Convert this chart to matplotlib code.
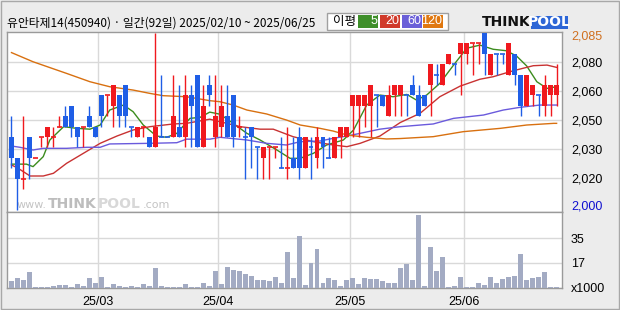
import matplotlib
matplotlib.use('Agg')
import matplotlib.pyplot as plt
from matplotlib.patches import Rectangle
import numpy as np

# ---------------- data ----------------
title = "유안타제14(450940) · 일간(92일) 2025/02/10 ~ 2025/06/25"

opens = [2035, 2025, 2015, 2035, 2025, 2035, 2035, 2035, 2040, 2045,
         2050, 2040, 2040, 2045, 2040, 2055, 2055, 2050, 2055, 2060,
         2040, 2035, 2040, 2035, 2030, 2035, 2035, 2035, 2040, 2035,
         2055, 2065, 2030, 2060, 2035, 2040, 2045, 2055, 2040, 2035,
         2040, 2030, 2025, 2030, 2030, 2020, 2020, 2025, 2035, 2020,
         2030, 2025, 2035, 2025, 2025, 2035, 2035, 2050, 2050, 2050,
         2050, 2055, 2055, 2045, 2055, 2055, 2055, 2060, 2055, 2055,
         2060, 2065, 2060, 2070, 2070, 2075, 2075, 2080, 2080, 2085,
         2065, 2075, 2075, 2065, 2075, 2065, 2050, 2055, 2055, 2050,
         2055, 2055]
highs = [2045, 2025, 2045, 2035, 2025, 2035, 2040, 2040, 2045, 2050,
         2050, 2040, 2040, 2050, 2040, 2055, 2055, 2060, 2055, 2060,
         2040, 2040, 2040, 2035, 2085, 2065, 2035, 2065, 2060, 2065,
         2060, 2065, 2060, 2065, 2065, 2060, 2060, 2055, 2045, 2040,
         2040, 2030, 2030, 2030, 2030, 2035, 2040, 2035, 2040, 2035,
         2035, 2040, 2035, 2035, 2035, 2040, 2040, 2055, 2055, 2055,
         2060, 2055, 2055, 2060, 2060, 2060, 2055, 2065, 2060, 2055,
         2070, 2070, 2070, 2075, 2070, 2080, 2080, 2080, 2080, 2085,
         2075, 2075, 2075, 2080, 2075, 2065, 2065, 2060, 2055, 2065,
         2060, 2070]
lows = [2020, 2000, 2010, 2015, 2025, 2030, 2030, 2030, 2040, 2040,
        2035, 2030, 2030, 2040, 2035, 2040, 2045, 2040, 2040, 2040,
        2035, 2035, 2035, 2030, 2030, 2035, 2035, 2035, 2035, 2030,
        2030, 2030, 2030, 2050, 2030, 2035, 2035, 2030, 2035, 2015,
        2020, 2015, 2015, 2015, 2025, 2020, 2015, 2020, 2015, 2020,
        2015, 2020, 2020, 2025, 2025, 2025, 2035, 2035, 2035, 2040,
        2035, 2040, 2050, 2045, 2045, 2045, 2045, 2055, 2045, 2050,
        2045, 2060, 2060, 2070, 2065, 2055, 2070, 2065, 2070, 2065,
        2065, 2065, 2070, 2065, 2060, 2045, 2050, 2050, 2045, 2045,
        2045, 2050]
closes = [2025, 2015, 2015, 2025, 2025, 2035, 2040, 2035, 2040, 2040,
          2040, 2035, 2040, 2040, 2035, 2045, 2055, 2060, 2045, 2045,
          2040, 2040, 2040, 2030, 2040, 2035, 2035, 2045, 2035, 2055,
          2050, 2030, 2050, 2055, 2045, 2050, 2035, 2035, 2040, 2035,
          2035, 2030, 2030, 2030, 2030, 2020, 2020, 2020, 2020, 2035,
          2030, 2035, 2030, 2025, 2035, 2040, 2040, 2055, 2055, 2055,
          2060, 2055, 2050, 2055, 2060, 2060, 2055, 2055, 2045, 2050,
          2070, 2065, 2070, 2075, 2070, 2080, 2080, 2080, 2080, 2075,
          2075, 2075, 2075, 2080, 2065, 2050, 2065, 2060, 2055, 2060,
          2060, 2060]
# candle colour: R = rise, B = fall
directions = list("BBRBRRRRRB" "BBRBBBRRBB" "BRRBRBBRBR" "BBRBRRBBRB"
                  "BBRRRBRBBR" "BRBBRRRRRR" "RBBRRRBBBB" "RBRRBRRRRB"
                  "RBBRBBRRBR" "RR")
volumes = [4.3, 6.4, 5.0, 10.7, 0.5, 0.5, 0.5, 1.4, 2.1, 2.1,
           0.7, 2.8, 1.4, 6.4, 3.1, 7.8, 0.7, 2.8, 1.4, 0.7,
           1.4, 0.7, 2.8, 1.4, 13.5, 1.4, 0.7, 0.7, 0.7, 2.8,
           0.7, 0.7, 3.5, 1.4, 11.4, 2.8, 14.9, 12.1, 11.4, 9.9,
           8.5, 5.0, 5.0, 4.3, 7.8, 3.5, 24.9, 6.4, 36.9, 2.1,
           17.5, 27.0, 3.5, 6.4, 5.0, 1.4, 5.0, 6.4, 2.8, 6.4,
           5.7, 5.7, 4.3, 3.5, 3.5, 13.5, 17.0, 5.0, 51.8, 1.4,
           28.4, 11.4, 21.3, 0.7, 1.4, 7.1, 0.7, 0.7, 3.5, 2.1,
           7.1, 3.5, 5.7, 7.8, 8.5, 24.1, 5.0, 6.4, 7.1, 10.7,
           0.7, 0.7]

# moving averages (candle index, value)
ma5_idx = [0, 2.5, 3.6, 5.3, 6.4, 8.7, 10.9, 13.1, 14.8, 16.4, 18.7, 20.3, 22.0, 24.2,
           25.9, 27.6, 29.8, 31.5, 33.1, 34.8, 37.0, 39.3, 41.5, 44.3, 46.5, 48.2, 50.4,
           52.6, 55.4, 57.1, 59.3, 61.5, 63.7, 66.0, 67.6, 69.3, 71.5, 73.8, 76.0, 78.2,
           80.4, 82.6, 84.3, 86.0, 87.7, 89.4, 91]
ma5_val = [2022.0, 2022.0, 2020.8, 2025.6, 2033.6, 2040.0, 2039.2, 2038.8, 2040.8, 2048.0,
           2050.4, 2047.2, 2040.8, 2035.5, 2034.9, 2036.8, 2044.0, 2044.5, 2047.0, 2046.0,
           2041.6, 2036.8, 2033.6, 2028.8, 2024.8, 2024.8, 2027.2, 2031.2, 2033.6, 2038.4,
           2050.4, 2055.2, 2054.4, 2055.5, 2052.8, 2055.2, 2060.8, 2069.6, 2077.7, 2079.2,
           2077.2, 2076.5, 2074.0, 2069.2, 2061.6, 2058.4, 2059.2]
ma20_idx = [0, 1, 3.1, 5.3, 7.0, 9.2, 12.0, 14.8, 17.6, 20.3, 23.1, 27.0, 29.2, 33.1,
            34.8, 38.2, 41.5, 43.7, 47.0, 50.4, 53.7, 56.0, 58.2, 61.5, 64.9, 68.2,
            71.5, 74.9, 78.2, 80.4, 83.8, 87.1, 89.4, 91]
ma20_val = [2021.6, 2020.2, 2016.3, 2016.3, 2017.6, 2022.4, 2027.2, 2032.0, 2035.5, 2038.4,
            2040.0, 2041.3, 2041.6, 2043.6, 2042.4, 2040.0, 2038.8, 2038.8, 2035.2, 2032.8,
            2031.2, 2030.4, 2032.0, 2035.5, 2042.0, 2046.4, 2054.4, 2059.5, 2062.8, 2064.0,
            2066.9, 2069.3, 2069.6, 2068.5]
ma60_idx = [0, 1.4, 3.6, 5.3, 9.2, 12.6, 14.8, 16.4, 23.1, 27.6, 29.2, 33.1, 34.8, 39.3,
            42.6, 45.9, 48.2, 51.5, 53.7, 56.0, 58.2, 61.5, 64.9, 70.4, 73.8, 78.8, 82.1,
            84.9, 88.2, 91]
ma60_val = [2030.7, 2030.1, 2028.8, 2029.6, 2029.6, 2030.1, 2030.1, 2031.7, 2032.0, 2032.3,
            2034.0, 2034.0, 2034.9, 2033.6, 2032.0, 2031.2, 2032.8, 2033.1, 2034.4, 2035.5,
            2036.8, 2038.8, 2040.0, 2041.3, 2044.0, 2045.6, 2048.0, 2049.3, 2050.4, 2050.4]
ma120_idx = [0, 3.6, 9.2, 13.1, 16.4, 20.3, 23.1, 25.3, 29.2, 33.1, 34.8, 37.0, 39.3, 42.6,
             45.9, 48.2, 51.5, 53.7, 56.0, 59.3, 62.6, 64.9, 70.4, 75.4, 81.6, 86.0, 90.5, 91]
ma120_val = [2075.6, 2071.2, 2065.6, 2061.6, 2059.2, 2057.6, 2056.0, 2054.9, 2054.4, 2052.5,
             2052.0, 2050.4, 2048.0, 2046.1, 2043.2, 2040.8, 2039.2, 2037.9, 2036.0, 2034.9,
             2034.1, 2034.3, 2035.2, 2037.6, 2039.2, 2040.8, 2041.6, 2041.6]

price_grid = [2015.5, 2029.3, 2043.2, 2057.1, 2070.9]
price_grid_labels = ['2,020', '2,030', '2,050', '2,060', '2,080']
price_max_label, price_min_label = '2,085', '2,000'
vol_ticks = [0, 17.5, 35]
vol_tick_labels = ['x1000', '17', '35']
month_pos = [14.5, 34.5, 56.5, 75.5]
month_labels = ['25/03', '25/04', '25/05', '25/06']
ma_names = ['5', '20', '60', '120']

# ---------------- style ----------------
W, H = 620, 310
RED, BLUE = '#f0191e', '#1f5ee6'
VOLC = '#a3abc3'
MA_COL = ['#3c8c1e', '#c83232', '#6a5adc', '#d87010']
LEG_COL = ['#3f8f2a', '#d03a2a', '#6a5fd8', '#e07810']
GRID = '#d9d9d9'
SPINE = '#9a9a9a'
BG = '#ececec'
NUMFONT = ['Liberation Sans', 'DejaVu Sans']
KRFONT = ['Noto Sans CJK KR', 'DejaVu Sans']

def fx(px):
    return px / W

def fy(py):
    return 1 - py / H

fig = plt.figure(figsize=(6.2, 3.1), dpi=100, facecolor=BG)
ax = fig.add_axes([fx(7), fy(212), fx(555), 180 / H])
axv = fig.add_axes([fx(7), fy(287.5), fx(555), 75.5 / H], sharex=ax)

x = np.arange(len(opens))
cols = [RED if d == 'R' else BLUE for d in directions]

# wicks
ax.vlines(x, lows, highs, colors=cols, lw=1, zorder=4)
# bodies
bw = 0.83
for i in range(len(x)):
    o, c = opens[i], closes[i]
    if o == c:
        ax.hlines(c, i - bw / 2, i + bw / 2, colors=cols[i], lw=1.2, zorder=5)
    else:
        ax.bar(i, abs(c - o), bottom=min(o, c), width=bw, color=cols[i],
               linewidth=0, zorder=5)

# moving averages
for (xi, yi), col in zip([(ma5_idx, ma5_val), (ma20_idx, ma20_val),
                          (ma60_idx, ma60_val), (ma120_idx, ma120_val)], MA_COL):
    ax.plot(xi, yi, color=col, lw=1.0, zorder=3)

ax.set_xlim(-0.75, 91.9)
ax.set_ylim(1999.0, 2085.5)
ax.set_facecolor('white')
ax.yaxis.tick_right()
ax.set_yticks(price_grid)
ax.set_yticklabels(price_grid_labels, family=NUMFONT, fontsize=9)
ax.tick_params(axis='y', length=0, pad=6.5)
ax.tick_params(axis='x', length=0, labelbottom=False)
ax.set_xticks(month_pos)
ax.grid(True, color=GRID, lw=1, zorder=0)
ax.set_axisbelow(True)
for s in ax.spines.values():
    s.set_color(SPINE)
    s.set_linewidth(1)
ax.text(1 + 9 / 555, 2083.2, price_max_label, transform=ax.get_yaxis_transform(),
        ha='left', va='center', fontsize=9, family=NUMFONT, color='#d07020')
ax.text(1 + 9 / 555, 2001.6, price_min_label, transform=ax.get_yaxis_transform(),
        ha='left', va='center', fontsize=9, family=NUMFONT, color='#1010d0')

# watermark
ax.text(fx(47), fy(208), 'www.', fontsize=8, family=['DejaVu Sans'], ha='right',
        transform=fig.transFigure, va='baseline', zorder=1, color='#c4c4c4')
ax.text(fx(48), fy(208), 'THINK', fontsize=10, fontweight='bold', family=['DejaVu Sans'],
        ha='left', transform=fig.transFigure, va='baseline', zorder=1, color='#bdbdbd')
ax.text(fx(98), fy(208), 'POOL', fontsize=10, fontweight='bold', family=['DejaVu Sans'],
        ha='left', transform=fig.transFigure, va='baseline', zorder=1, color='#d8d8d8')
ax.text(fx(143), fy(208), '.com', fontsize=8, family=['DejaVu Sans'], ha='left',
        transform=fig.transFigure, va='baseline', zorder=1, color='#c4c4c4')

# volume
axv.bar(x, volumes, width=bw, color=VOLC, linewidth=0, zorder=3)
axv.set_ylim(0, 53.6)
axv.set_facecolor('white')
axv.yaxis.tick_right()
axv.set_yticks(vol_ticks)
axv.set_yticklabels(vol_tick_labels, family=NUMFONT, fontsize=9)
axv.tick_params(axis='y', length=0, pad=6.5)
axv.set_xticks(month_pos)
axv.set_xticklabels(month_labels, family=NUMFONT, fontsize=9)
axv.tick_params(axis='x', length=0, pad=6)
axv.grid(True, color=GRID, lw=1, zorder=0)
axv.set_axisbelow(True)
for s in axv.spines.values():
    s.set_color(SPINE)
    s.set_linewidth(1)

# title
fig.text(fx(7), fy(23), title, fontsize=8.5, family=KRFONT, va='center', ha='left')

# legend box
fig.add_artist(Rectangle((fx(327), fy(29.5)), fx(121), 16.5 / H, transform=fig.transFigure,
                         facecolor='white', edgecolor='#a0a0a0', lw=1))
fig.text(fx(333), fy(21.5), '이평', fontsize=9, family=KRFONT, va='center', ha='left')
box_x = [358, 380, 402, 423]
for bx, col, name in zip(box_x, LEG_COL, ma_names):
    fig.add_artist(Rectangle((fx(bx), fy(28)), fx(20), 13 / H, transform=fig.transFigure,
                             facecolor=col, edgecolor='none'))
    fig.text(fx(bx + 19), fy(21.5), name, fontsize=9, family=NUMFONT, color='white',
             va='center', ha='right')

# logo
fig.text(fx(482), fy(22), 'THINK', fontsize=10, fontweight='bold', family=['DejaVu Sans'],
         color='#111111', va='center', ha='left')
fig.add_artist(Rectangle((fx(531), fy(29)), fx(37), 13 / H, transform=fig.transFigure,
                         facecolor='#2d66d6', edgecolor='none'))
fig.text(fx(549.5), fy(22.5), 'POOL', fontsize=10, fontweight='bold', family=['DejaVu Sans'],
         color='white', va='center', ha='center')

# outer frame
fig.add_artist(Rectangle((fx(1), fy(308.5)), fx(618), 307.5 / H, transform=fig.transFigure,
                         fill=False, edgecolor='#a8a8a8', lw=1))

fig.savefig('out.png', dpi=100, facecolor=BG)
